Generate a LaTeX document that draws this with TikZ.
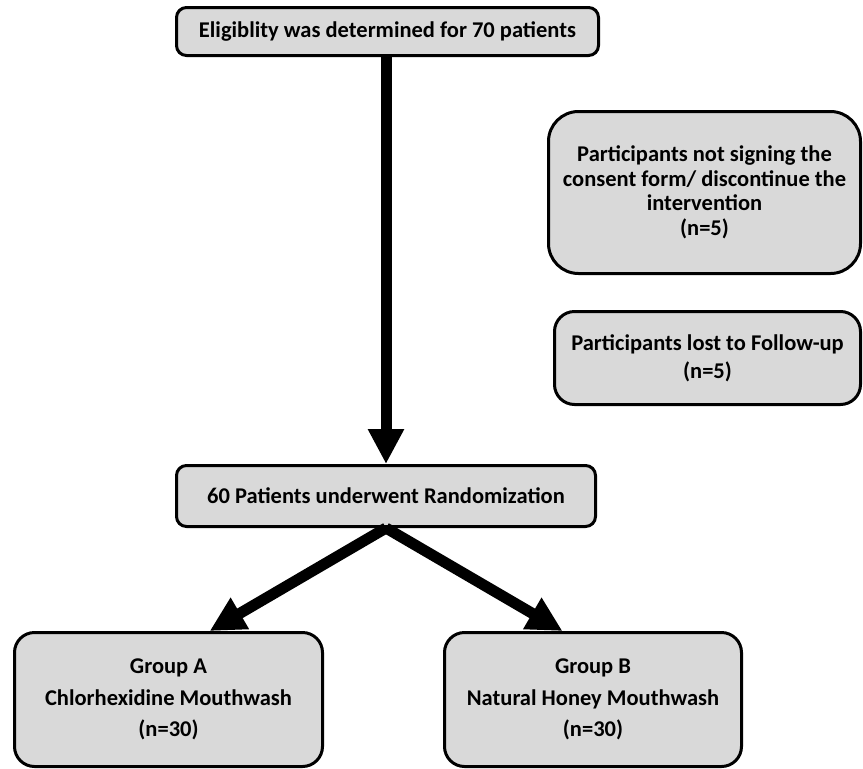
\documentclass[tikz,border=0pt]{standalone}
\usepackage{fontspec}
\setmainfont{Carlito}
\usetikzlibrary{arrows.meta}

\definecolor{boxgray}{HTML}{D9D9D9}
\tikzset{
  flowbox/.style={draw, line width=3pt, fill=boxgray, rounded corners=#1,
    align=center, inner sep=0pt, font=\bfseries\fontsize{22.5}{24.5}\selectfont},
  flowbox/.default=10pt,
  flowarrow/.style={line width=11pt, -{Triangle[width=34pt,length=35pt]}}
}

\begin{document}
\begin{tikzpicture}[x=1pt, y=-1pt]

\useasboundingbox (0,0) rectangle (863,769);

\node[flowbox, minimum width=422pt, minimum height=48pt] (elig) at (387.5,31.5) {Eligiblity was determined for 70 patients};

\node[flowbox=30pt, minimum width=312pt, minimum height=162pt] (consent) at (704.5,192.5) {Participants not signing the\\consent form/ discontinue the\\intervention\\(n=5)};
\node[flowbox=20pt, minimum width=306pt, minimum height=93pt] (lost) at (707.5,358) {Participants lost to Follow-up\\[3.5pt](n=5)};

\node[flowbox, minimum width=419pt, minimum height=61pt] (rand) at (386,496) {60 Patients underwent Randomization};

\node[flowbox=20pt, minimum width=308pt, minimum height=134pt] (grpA) at (168.5,699.5) {Group A\\[7pt]Chlorhexidine Mouthwash\\[7pt](n=30)};
\node[flowbox=20pt, minimum width=297pt, minimum height=134pt] (grpB) at (593,699.5) {Group B\\[7pt]Natural Honey Mouthwash\\[7pt](n=30)};

\draw[flowarrow] (rand.north |- elig.south) -- (rand.north);
\draw[flowarrow] (rand.south) -- (grpA.59);
\draw[flowarrow] (rand.south) -- (grpB.114);

\end{tikzpicture}
\end{document}
